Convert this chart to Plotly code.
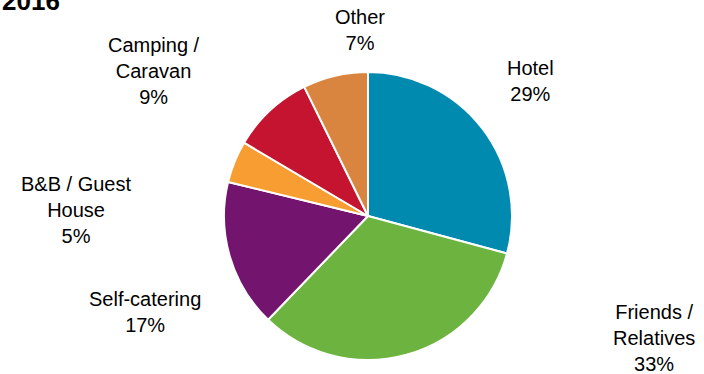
import plotly.graph_objects as go

W, H = 704, 374

# Data
categories = ["Hotel", "Friends / Relatives", "Self-catering", "B&B / Guest House", "Camping / Caravan", "Other"]
shares = [29.2, 33.0, 16.6, 4.7, 9.2, 7.3]
label_text = ["Hotel<br>29%", "Friends /<br>Relatives<br>33%", "Self-catering<br>17%",
              "B&B / Guest<br>House<br>5%", "Camping /<br>Caravan<br>9%", "Other<br>7%"]
title_text = "2016"

# Styles
colors = ["#008AB0", "#6DB33F", "#73146F", "#F89D31", "#C4142F", "#DA853F"]
# label centres in pixels (x, y from top)
label_pos = [(530, 81), (654, 338), (145, 312), (76, 210), (154, 71), (360, 30)]

cx, cy, r = 368, 216, 144

fig = go.Figure(go.Pie(
    labels=categories,
    values=shares,
    sort=False,
    direction="clockwise",
    rotation=0,
    marker=dict(colors=colors, line=dict(color="white", width=2)),
    textinfo="none",
    hoverinfo="label+percent",
    showlegend=False,
    domain=dict(x=[(cx - r) / W, (cx + r) / W], y=[(H - cy - r) / H, (H - cy + r) / H]),
))

font = dict(family="Liberation Sans, Arial, sans-serif", size=20, color="#000000")
annotations = []
for txt, (px, py) in zip(label_text, label_pos):
    annotations.append(dict(
        text=txt, x=px / W, y=1 - py / H, xref="paper", yref="paper",
        xanchor="center", yanchor="middle", showarrow=False, font=font, align="center",
    ))
annotations.append(dict(
    text="<b>" + title_text + "</b>", x=0, y=1 - 18 / H, xref="paper", yref="paper",
    xanchor="left", yanchor="bottom", showarrow=False,
    font=dict(family="Liberation Sans, Arial, sans-serif", size=26, color="#000000"),
))

fig.update_layout(
    width=W, height=H,
    margin=dict(l=0, r=0, t=0, b=0),
    paper_bgcolor="white", plot_bgcolor="white",
    annotations=annotations,
)

fig.write_html("out.html", config={"displayModeBar": False},
               post_script="document.body.style.margin='0';document.body.style.padding='0';")
